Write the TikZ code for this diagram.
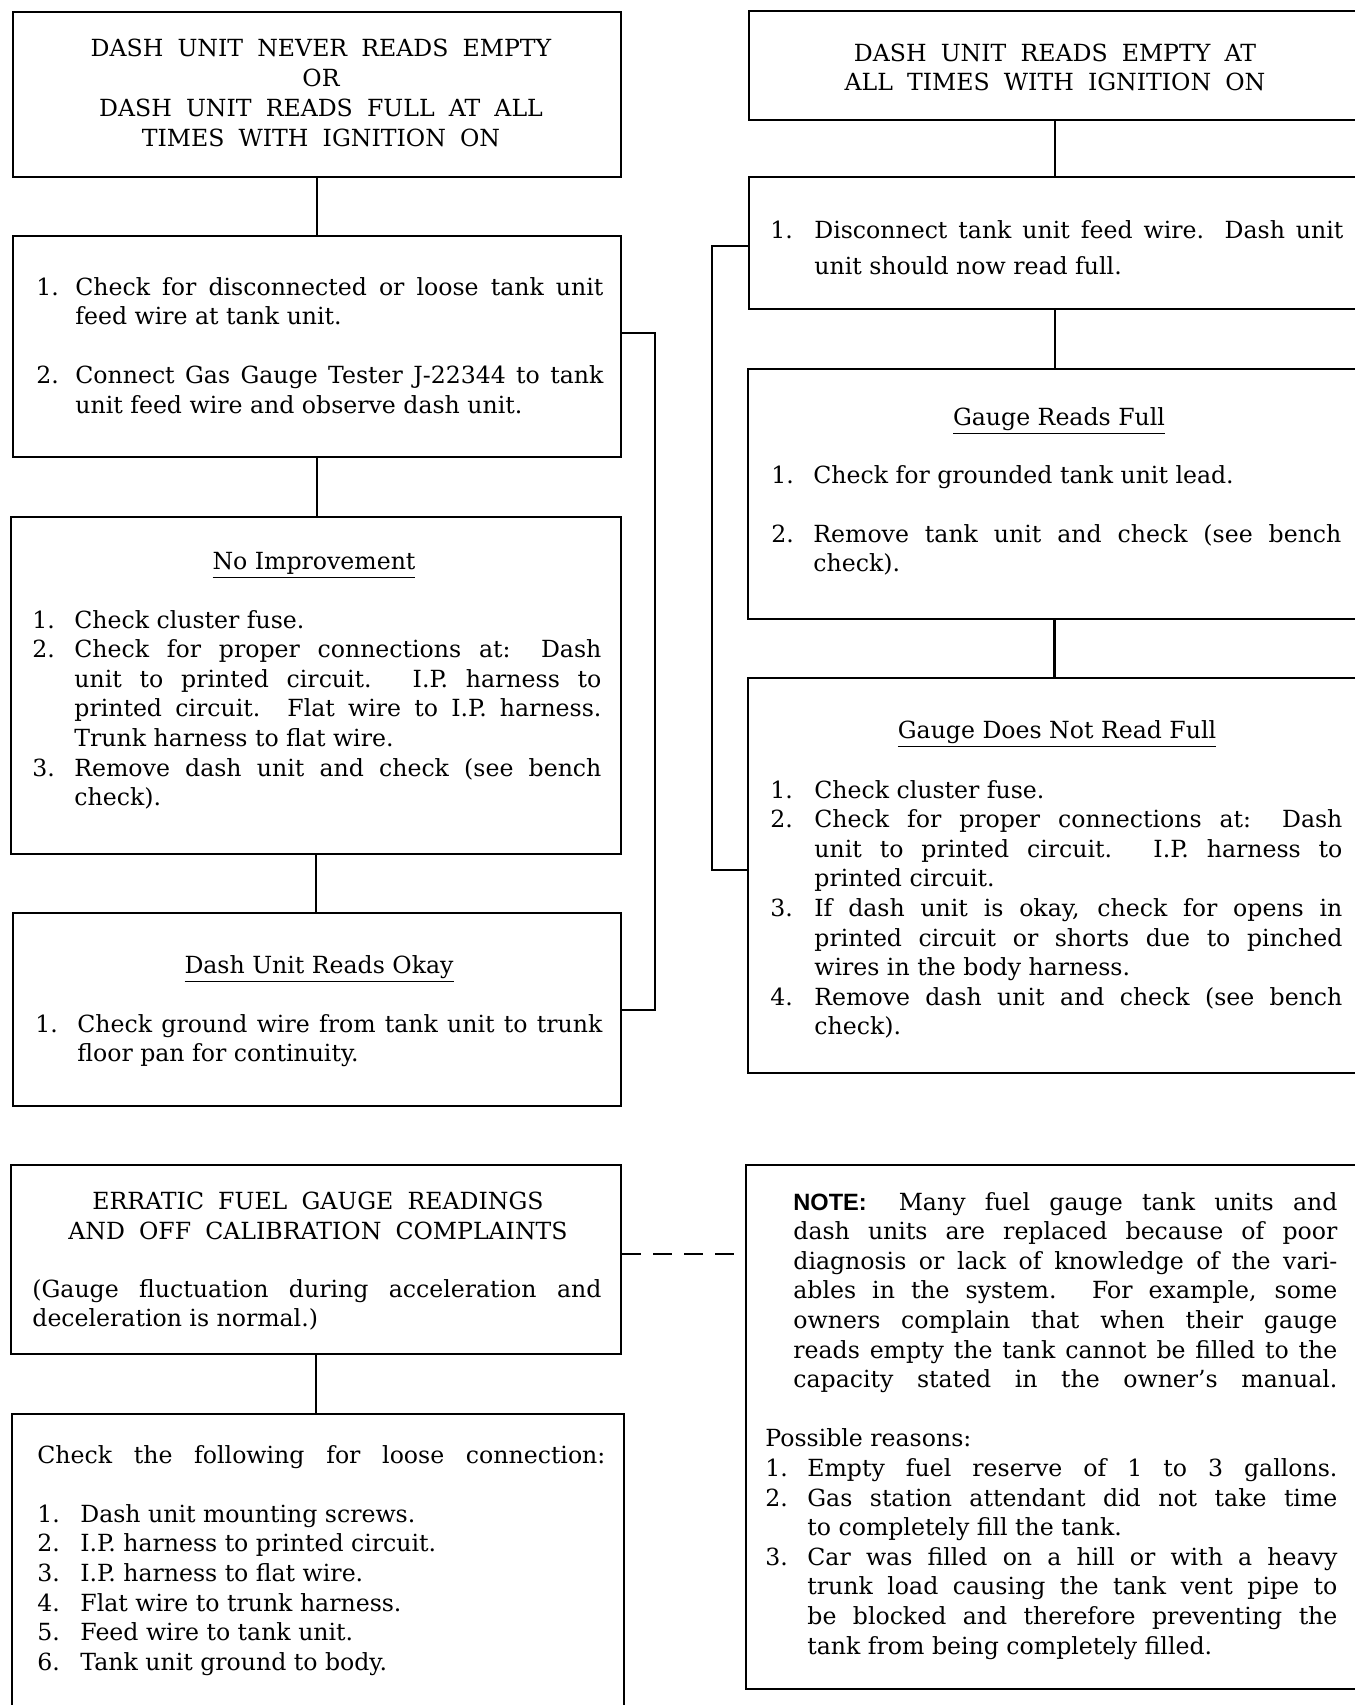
\documentclass[tikz,border=0pt]{standalone}
\usepackage{fontspec}
\setmainfont{DejaVu Serif}
\setsansfont{Liberation Sans}
\usetikzlibrary{fit}
\newlength{\hin}
\setlength{\hin}{21pt}
\newcommand{\nit}[2]{\noindent\hangindent=\hin\hangafter=1\makebox[\hin][l]{#1}#2\par}
\newcommand{\nitj}[2]{{\parfillskip=0pt\relax\nit{#1}{#2}}}
\newcommand{\hul}[1]{\underline{\vphantom{gy}#1}}
\newcommand{\wsp}{\spaceskip=0.6em\relax}
\tikzset{
  box/.style={draw, line width=1.1pt, inner sep=0pt},
  conn/.style={line width=1.2pt},
  txt/.style={inner sep=0pt, anchor=base west, align=justify, font=\fontsize{11.8}{14.8}\selectfont},
  captxt/.style={inner sep=0pt, anchor=base, align=center, text width=310pt, font=\fontsize{11.8}{15}\selectfont},
  headtxt/.style={inner sep=0pt, anchor=base, font=\fontsize{11.8}{14.8}\selectfont},
}
\begin{document}
\begin{tikzpicture}[x=0.5pt,y=-0.5pt]
\useasboundingbox (0,0) rectangle (1355,1705);
\fill[white] (0,0) rectangle (1355,1705);
\clip (0,0) rectangle (1355,1705);

% ---------- left column ----------
\node[box, fit={(13,12) (621,177)}] (A) {};
\node[box, fit={(13,236) (621,457)}] (B) {};
\node[box, fit={(11,517) (621,854)}] (C) {};
\node[box, fit={(13,913) (621,1106)}] (D) {};

\node[captxt] (At) at (321,56) {\wsp DASH UNIT NEVER READS EMPTY\\ OR\\ DASH UNIT READS FULL AT ALL\\ TIMES WITH IGNITION ON};

\node[txt, text width=283.5pt] (Bt) at (36,295) {\setlength{\hin}{19.5pt}%
\nit{1.}{Check for disconnected or loose tank unit\linebreak feed wire at tank unit.}
\vskip\baselineskip
\nit{2.}{Connect Gas Gauge Tester J-22344 to tank\linebreak unit feed wire and observe dash unit.}};

\node[headtxt] (Ch) at (314,569) {\hul{No Improvement}};
\node[txt, text width=284.5pt] (Ct) at (32,628) {\setlength{\hin}{21pt}%
\nit{1.}{Check cluster fuse.}
\nit{2.}{Check for proper connections at: Dash\linebreak unit to printed circuit. I.P. harness to\linebreak printed circuit. Flat wire to I.P. harness.\linebreak Trunk harness to flat wire.}
\nit{3.}{Remove dash unit and check (see bench\linebreak check).}};

\node[headtxt] (Dh) at (319,973) {\hul{Dash Unit Reads Okay}};
\node[txt, text width=283.5pt] (Dt) at (35,1032) {\setlength{\hin}{21pt}%
\nit{1.}{Check ground wire from tank unit to trunk\linebreak floor pan for continuity.}};

% ---------- right column ----------
\node[box, fit={(749,11) (1361,120)}] (E) {};
\node[box, fit={(749,177) (1361,309)}] (F) {};
\node[box, fit={(748,369) (1361,619)}] (G) {};
\node[box, fit={(748,678) (1361,1073)}] (H) {};

\node[captxt, font=\fontsize{11.8}{14.5}\selectfont] (Et) at (1055,61) {\wsp DASH UNIT READS EMPTY AT\\ ALL TIMES WITH IGNITION ON};

\node[txt, text width=286.5pt, font=\fontsize{11.8}{18}\selectfont] (Ft) at (770,238) {\setlength{\hin}{22pt}%
\nit{1.}{Disconnect tank unit feed wire. Dash unit\linebreak unit should now read full.}};

\node[headtxt] (Gh) at (1059,425) {\hul{Gauge Reads Full}};
\node[txt, text width=285pt] (Gt) at (771,483) {\setlength{\hin}{21pt}%
\nit{1.}{Check for grounded tank unit lead.}
\vskip\baselineskip
\nit{2.}{Remove tank unit and check (see bench\linebreak check).}};

\node[headtxt] (Hh) at (1057,738) {\hul{Gauge Does Not Read Full}};
\node[txt, text width=286pt] (Ht) at (770,798) {\setlength{\hin}{22pt}%
\nit{1.}{Check cluster fuse.}
\nit{2.}{Check for proper connections at: Dash\linebreak unit to printed circuit. I.P. harness to\linebreak printed circuit.}
\nit{3.}{If dash unit is okay, check for opens in\linebreak printed circuit or shorts due to pinched\linebreak wires in the body harness.}
\nit{4.}{Remove dash unit and check (see bench\linebreak check).}};

% ---------- bottom ----------
\node[box, fit={(11,1165) (621,1354)}] (I) {};
\node[box, fit={(12,1414) (624,1725)}] (J) {};
\node[box, fit={(746,1165) (1361,1689)}] (K) {};

\node[captxt] (Ih) at (318,1209) {\wsp ERRATIC FUEL GAUGE READINGS\\ AND OFF CALIBRATION COMPLAINTS};
\node[txt, text width=284.5pt] (It) at (32,1297) {(Gauge fluctuation during acceleration and\linebreak deceleration is normal.)};

\node[txt, text width=284pt] (Jt) at (37,1463) {\setlength{\hin}{21.5pt}%
{\parfillskip=0pt Check the following for loose connection:\par}
\vskip\baselineskip
\nit{1.}{Dash unit mounting screws.}
\nit{2.}{I.P. harness to printed circuit.}
\nit{3.}{I.P. harness to flat wire.}
\nit{4.}{Flat wire to trunk harness.}
\nit{5.}{Feed wire to tank unit.}
\nit{6.}{Tank unit ground to body.}};

\node[txt, text width=286pt] (Kt) at (765,1210) {\setlength{\hin}{21pt}%
{\leftskip=14pt\parfillskip=0pt {\sffamily\bfseries NOTE:}\hspace{16pt}Many fuel gauge tank units and\linebreak dash units are replaced because of poor\linebreak diagnosis or lack of knowledge of the vari-\linebreak ables in the system. For example, some\linebreak owners complain that when their gauge\linebreak reads empty the tank cannot be filled to the\linebreak capacity stated in the owner’s manual.\par}
\vskip\baselineskip
\noindent Possible reasons:\par
\nitj{1.}{Empty fuel reserve of 1 to 3 gallons.}
\nit{2.}{Gas station attendant did not take time\linebreak to completely fill the tank.}
\nit{3.}{Car was filled on a hill or with a heavy\linebreak trunk load causing the tank vent pipe to\linebreak be blocked and therefore preventing the\linebreak tank from being completely filled.}};

% ---------- connectors ----------
\draw[conn] (A.south) -- (A.south |- B.north);
\draw[conn] (B.south) -- (B.south |- C.north);
\draw[conn] (C.south) -- (C.south |- D.north);
\coordinate (lr) at (655,333);
\coordinate (lrb) at (655,1010);
\draw[conn] (B.east |- lr) -- (lr) -- (lrb) -- (D.east |- lrb);

\draw[conn] (E.south) -- (E.south |- F.north);
\draw[conn] (F.south) -- (F.south |- G.north);
\draw[conn] (G.south) -- (G.south |- H.north);
\coordinate (ll) at (712,246);
\coordinate (llb) at (712,870);
\draw[conn] (F.west |- ll) -- (ll) -- (llb) -- (H.west |- llb);

\draw[conn] (I.south) -- (I.south |- J.north);
\coordinate (dd) at (700,1254);
\draw[conn, dash pattern=on 9.5pt off 6pt] (I.east |- dd) -- (K.west |- dd);
\end{tikzpicture}
\end{document}
